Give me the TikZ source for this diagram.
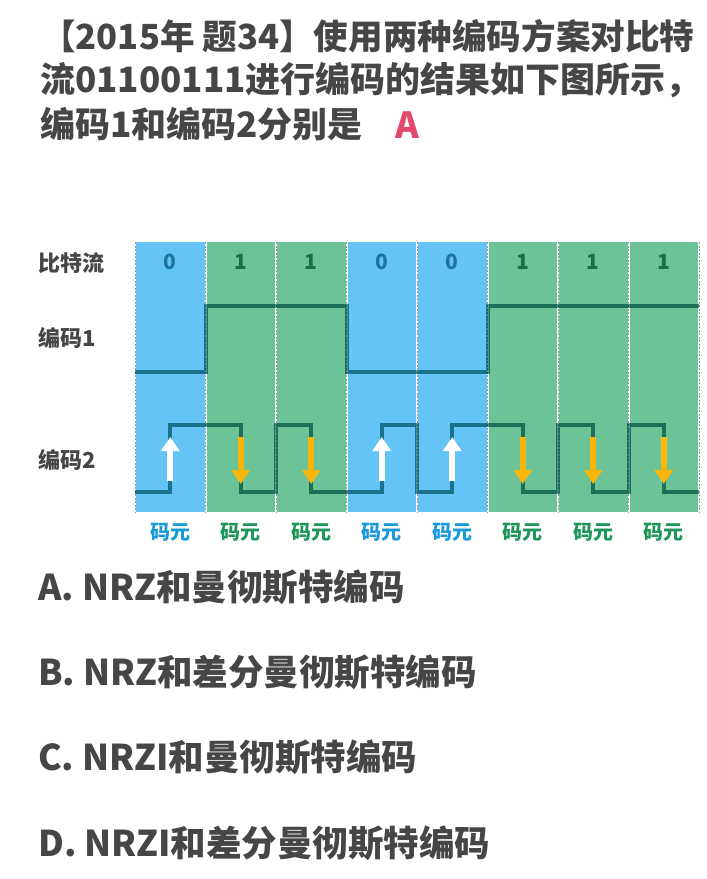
\documentclass[tikz,border=0pt]{standalone}
\usepackage{fontspec}
\setmainfont{Noto Sans CJK SC}
\usepackage{xcolor}
\definecolor{TextGray}{RGB}{70,70,70}
\definecolor{Cell0}{RGB}{99,196,245}
\definecolor{Cell1}{RGB}{108,195,152}
\definecolor{Bit0}{RGB}{32,115,160}
\definecolor{Bit1}{RGB}{28,110,68}
\definecolor{Unit0}{RGB}{26,154,220}
\definecolor{Unit1}{RGB}{30,150,90}
\definecolor{WaveTone}{RGB}{72,146,146}
\definecolor{ArrOrange}{RGB}{250,182,10}
\definecolor{AnsRed}{RGB}{228,72,106}
\definecolor{SepGray}{RGB}{150,150,150}
\usetikzlibrary{arrows.meta, positioning}
\tikzset{
  % one bit cell of the stream
  cellbox/.style={
    rectangle, draw=none,
    minimum width=68.5pt, minimum height=270pt,
    inner sep=0pt
  },
  sepline/.style={SepGray, dashed, line width=0.6pt, dash pattern=on 2pt off 1.5pt},
  % texts
  bitlbl/.style={font=\fontsize{21}{21}\selectfont\bfseries, inner sep=0pt},
  rowlbl/.style={anchor=west, font=\fontsize{22}{22}\selectfont\bfseries, text=TextGray, inner sep=0pt},
  unitlbl/.style={font=\fontsize{20}{20}\selectfont\bfseries, inner sep=0pt},
  question/.style={anchor=west, font=\fontsize{35}{35}\selectfont\bfseries, text=TextGray, inner sep=0pt},
  option/.style={question, font=\fontsize{35.5}{35.5}\selectfont\bfseries},
  % signal levels
  wave/.style={line width=4pt, WaveTone, line join=miter},
  % transition arrows
  uparr/.style={-{Triangle[length=14pt,width=18pt]}, line width=6pt, white},
  downarr/.style={-{Triangle[length=14pt,width=18pt]}, line width=6pt, ArrOrange},
}

\begin{document}
\begin{tikzpicture}[x=1pt, y=-1pt]
  \useasboundingbox (0,0) rectangle (707,879);
  \fill[white] (0,0) rectangle (707,879);

  % question
  \node[question, font=\fontsize{34.6}{34.6}\selectfont\bfseries] (q1) at (41,36) {【2015年 题34】使用两种编码方案对比特};
  \node[question] (q2) at (40,80) {流01100111进行编码的结果如下图所示，};
  \node[question] (q3) at (40,124) {编码1和编码2分别是};
  \node[font=\fontsize{36}{36}\selectfont\bfseries, text=AnsRed, inner sep=0pt] (ans) at (407,125) {A};

  % row labels
  \node[rowlbl] (lblbits) at (38,263) {比特流};
  \node[rowlbl] (lblcode1) at (38,338) {编码1};
  \node[rowlbl] (lblcode2) at (38,460) {编码2};

  % Cells
  \foreach \b [count=\i from 0] in {0,1,1,0,0,1,1,1}{
    \node[cellbox, fill=Cell\b] (cell\i) at (170.25+70.5*\i,377) {};
    \node[bitlbl, text=Bit\b] (bit\i) at (170.25+70.5*\i,262) {\b};
    \node[unitlbl, text=Unit\b] (unit\i) at (170.25+70.5*\i,532) {码元};
  }
  \foreach \x in {0,...,8}{
    \draw[sepline] (135+70.5*\x,242) -- (135+70.5*\x,512);
  }

  % Waveforms
  \begin{scope}[blend mode=multiply]
    % code 1
    \draw[wave] (135,372) -- (205.5,372) -- (205.5,306) -- (346.5,306)
      -- (346.5,372) -- (487.5,372) -- (487.5,306) -- (699,306);
    % code 2
    \draw[wave] (135,492) -- (170.25,492) -- (170.25,425) -- (240.75,425)
      -- (240.75,492) -- (276,492) -- (276,425) -- (311.25,425)
      -- (311.25,492) -- (381.75,492) -- (381.75,425) -- (417,425)
      -- (417,492) -- (452.25,492) -- (452.25,425) -- (522.75,425)
      -- (522.75,492) -- (558,492) -- (558,425) -- (593.25,425)
      -- (593.25,492) -- (628.5,492) -- (628.5,425) -- (663.75,425)
      -- (663.75,492) -- (699,492);
  \end{scope}

  % Arrows
  \foreach \b [count=\i from 0] in {0,1,1,0,0,1,1,1}{
    \ifnum\b=0
      \draw[uparr] (170.25+70.5*\i,481) -- (170.25+70.5*\i,437);
    \else
      \draw[downarr] (170.25+70.5*\i,437) -- (170.25+70.5*\i,484);
    \fi
  }

  % options
  \node[option] (optA) at (38,587) {A. NRZ和曼彻斯特编码};
  \node[option] (optB) at (38,672) {B. NRZ和差分曼彻斯特编码};
  \node[option] (optC) at (38,757) {C. NRZI和曼彻斯特编码};
  \node[option] (optD) at (38,843) {D. NRZI和差分曼彻斯特编码};
\end{tikzpicture}
\end{document}
